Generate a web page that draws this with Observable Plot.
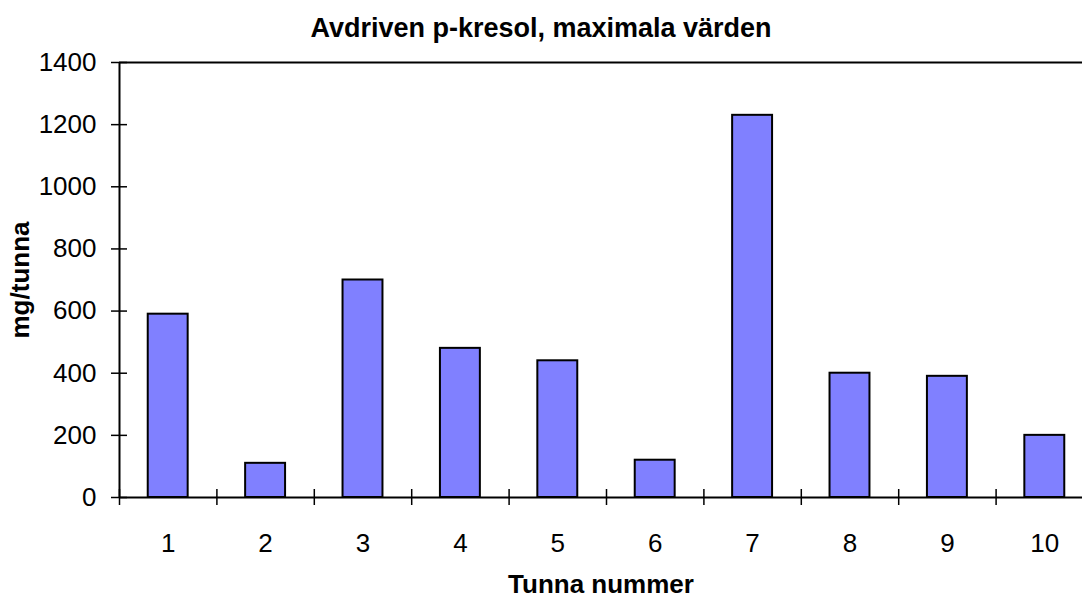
<!DOCTYPE html>
<html>
<head>
<meta charset="utf-8">
<script src="https://cdn.jsdelivr.net/npm/d3@7"></script>
<script src="https://cdn.jsdelivr.net/npm/@observablehq/plot@0.6"></script>
<style>
  html, body { margin: 0; padding: 0; background: #fff; overflow: hidden; }
  #title { height: 40px; box-sizing: border-box; padding-top: 15px; text-align: center;
    font: bold 27px "Liberation Sans", Arial, sans-serif; line-height: 27px; color: #000; white-space: nowrap; }
</style>
</head>
<body>
<div id="title"></div>
<div id="chart"></div>
<script>
const titleText = "Avdriven p-kresol, maximala värden";
const xLabel = "Tunna nummer";
const yLabel = "mg/tunna";
const barrels = [1, 2, 3, 4, 5, 6, 7, 8, 9, 10];
const values = [590, 110, 700, 480, 440, 120, 1230, 400, 390, 200];
const yTicks = [0, 200, 400, 600, 800, 1000, 1200, 1400];
const boundaries = [0.5, 1.5, 2.5, 3.5, 4.5, 5.5, 6.5, 7.5, 8.5, 9.5];

document.getElementById("title").textContent = titleText;

const data = barrels.map((n, i) => ({n, v: values[i]}));
const halfBar = 0.205;
const font = '"Liberation Sans", Arial, sans-serif';

const chart = Plot.plot({
  width: 1082,
  height: 561,
  marginTop: 22,
  marginBottom: 104,
  marginLeft: 119,
  marginRight: 0,
  style: {fontFamily: font, fontSize: "26px", color: "#000", background: "#fff", overflow: "hidden"},
  x: {type: "linear", domain: [0.5, 10.5], range: [119, 1093]},
  y: {domain: [0, 1400]},
  marks: [
    Plot.rectY(data, {x1: d => d.n - halfBar, x2: d => d.n + halfBar, y1: 0, y2: "v",
      fill: "#8080FF", stroke: "#000", strokeWidth: 2}),
    Plot.ruleY([0], {stroke: "#000", strokeWidth: 2}),
    Plot.ruleY([1400], {stroke: "#000", strokeWidth: 2}),
    Plot.ruleX([0.5], {stroke: "#000", strokeWidth: 2}),
    Plot.axisY({ticks: yTicks, tickSize: 16, dx: 8, text: null, label: null, stroke: "#000", strokeWidth: 1.5}),
    Plot.axisY({ticks: yTicks, tickSize: 0, tickPadding: 23, tickFormat: d => String(d), fontSize: 26, label: null}),
    Plot.axisX({ticks: boundaries, tickSize: 16, dy: -8, text: null, stroke: "#000", strokeWidth: 1.5, label: null}),
    Plot.axisX({ticks: barrels, tickSize: 0, tickPadding: 36, tickFormat: d => String(d), fontSize: 26, label: null}),
    Plot.text([yLabel], {frameAnchor: "left", textAnchor: "middle", lineAnchor: "middle", rotate: -90, dx: -99,
      fontWeight: "bold", fontSize: 26}),
    Plot.text([xLabel], {frameAnchor: "bottom", textAnchor: "middle", lineAnchor: "middle", dy: 87,
      fontWeight: "bold", fontSize: 26})
  ]
});
document.getElementById("chart").appendChild(chart);
</script>
</body>
</html>
